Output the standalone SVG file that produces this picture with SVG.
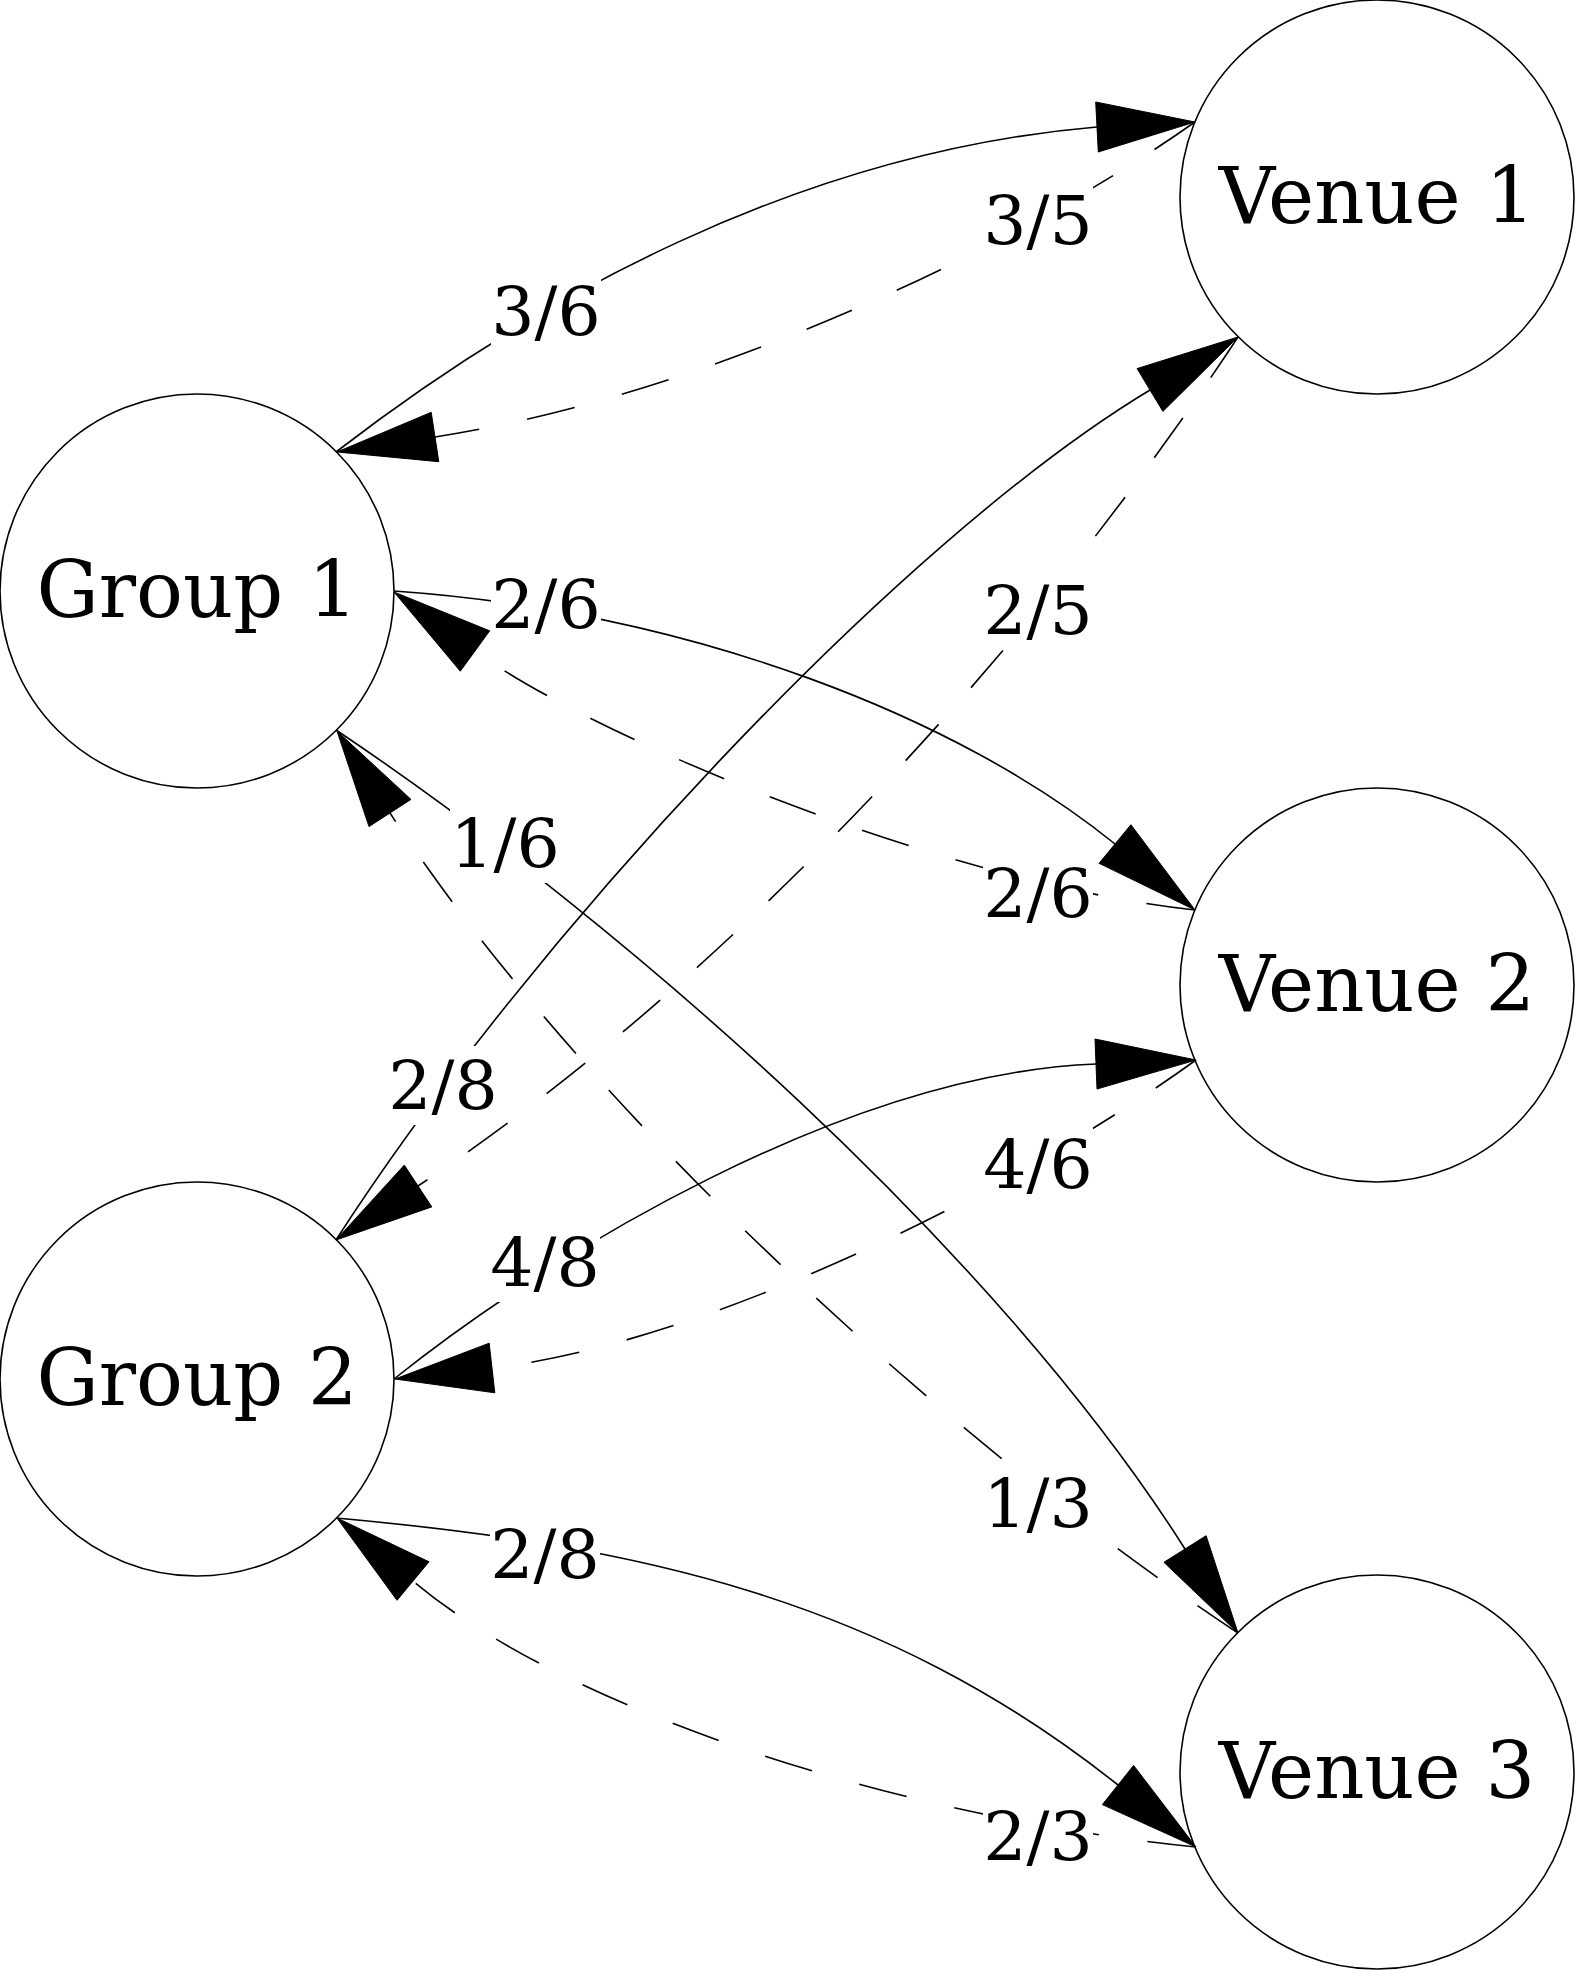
<svg xmlns="http://www.w3.org/2000/svg" width="1576" height="1970" viewBox="0 0 1576 1970">
<style>
.node circle{fill:#fff;stroke:#000;stroke-width:1.6}
.node text{font-family:"DejaVu Serif",serif;font-size:78px;text-anchor:middle;fill:#000}
.e{fill:none;stroke:#000;stroke-width:1.6}
.d{stroke-dasharray:49 49}
.a{fill:#000;stroke:#000;stroke-width:1}
.lb{fill:#fff;stroke:none}
.lt{font-family:"DejaVu Serif",serif;font-size:68px;text-anchor:middle;fill:#000}
</style>
<rect width="1576" height="1970" fill="#fff"/>
<g id="nodes">
<g id="group1" class="node"><circle cx="197" cy="591" r="197"/><text x="197" y="617">Group 1</text></g>
<g id="group2" class="node"><circle cx="197" cy="1379" r="197"/><text x="197" y="1405">Group 2</text></g>
<g id="venue1" class="node"><circle cx="1377" cy="197" r="197"/><text x="1377" y="223">Venue 1</text></g>
<g id="venue2" class="node"><circle cx="1377" cy="985" r="197"/><text x="1377" y="1011">Venue 2</text></g>
<g id="venue3" class="node"><circle cx="1377" cy="1772" r="197"/><text x="1377" y="1798">Venue 3</text></g>
</g>
<g id="connectors">
<g id="g1-v1">
<path class="e" d="M336,452 C533,300 799,152 1097,127"/>
<polygon class="a" points="1195,122 1098.3,152 1095.7,102"/>
<rect class="lb" x="491" y="272" width="110" height="79"/><text class="lt" x="546" y="335">3/6</text>
</g>
<g id="v1-g1">
<path class="e d" d="M1195,122 C990,266 682,399 435,437"/>
<polygon class="a" points="337,452 431.2,412.3 438.8,461.7"/>
<rect class="lb" x="983" y="181" width="110" height="79"/><text class="lt" x="1038" y="244">3/5</text>
</g>
<g id="g1-v2">
<path class="e" d="M394,591 C693,612 960,718 1115,844"/>
<polygon class="a" points="1195,910 1099.1,863.3 1130.9,824.7"/>
<rect class="lb" x="491" y="565" width="110" height="79"/><text class="lt" x="546" y="628">2/6</text>
</g>
<g id="v2-g1">
<path class="e d" d="M1195,910 C946,883 596,739 475,651"/>
<polygon class="a" points="394,592 489.7,630.8 460.3,671.2"/>
<rect class="lb" x="983" y="854" width="110" height="79"/><text class="lt" x="1038" y="917">2/6</text>
</g>
<g id="g1-v3">
<path class="e" d="M336,730 C627,925 998,1253 1185,1549"/>
<polygon class="a" points="1238,1633 1163.9,1562.3 1206.1,1535.7"/>
<rect class="lb" x="450" y="804" width="110" height="79"/><text class="lt" x="505" y="867">1/6</text>
</g>
<g id="v3-g1">
<path class="e d" d="M1238,1633 C946,1440 581,1106 390,813"/>
<polygon class="a" points="337,731 411,799.4 369,826.6"/>
<rect class="lb" x="983" y="1464" width="110" height="79"/><text class="lt" x="1038" y="1527">1/3</text>
</g>
<g id="g2-v1">
<path class="e" d="M336,1240 C525,946 893,545 1150,390"/>
<polygon class="a" points="1238,337 1162.9,411.4 1137.1,368.6"/>
<rect class="lb" x="388" y="1046" width="110" height="79"/><text class="lt" x="443" y="1109">2/8</text>
</g>
<g id="v1-g2">
<path class="e d" d="M1238,337 C1018,671 710,993 418,1186"/>
<polygon class="a" points="336,1240 404.3,1165.1 431.8,1206.9"/>
<rect class="lb" x="983" y="571" width="110" height="79"/><text class="lt" x="1038" y="634">2/5</text>
</g>
<g id="g2-v2">
<path class="e" d="M394,1379 C550,1254 846,1074 1096,1064"/>
<polygon class="a" points="1196,1060 1097,1089 1095,1039"/>
<rect class="lb" x="490" y="1223" width="110" height="79"/><text class="lt" x="545" y="1286">4/8</text>
</g>
<g id="v2-g2">
<path class="e d" d="M1196,1060 C993,1206 691,1345 492,1368"/>
<polygon class="a" points="395,1379 489.2,1343.2 494.8,1392.8"/>
<rect class="lb" x="983" y="1125" width="110" height="79"/><text class="lt" x="1038" y="1188">4/6</text>
</g>
<g id="g2-v3">
<path class="e" d="M336,1518 C635,1545 883,1598 1118,1785"/>
<polygon class="a" points="1196,1847 1102.4,1804.6 1133.6,1765.4"/>
<rect class="lb" x="490" y="1515" width="110" height="79"/><text class="lt" x="545" y="1578">2/8</text>
</g>
<g id="v3-g2">
<path class="e d" d="M1196,1847 C897,1817 566,1710 413,1581"/>
<polygon class="a" points="337,1518 429,1561.8 397,1600.3"/>
<rect class="lb" x="983" y="1797" width="110" height="79"/><text class="lt" x="1038" y="1860">2/3</text>
</g>
</g>
</svg>
